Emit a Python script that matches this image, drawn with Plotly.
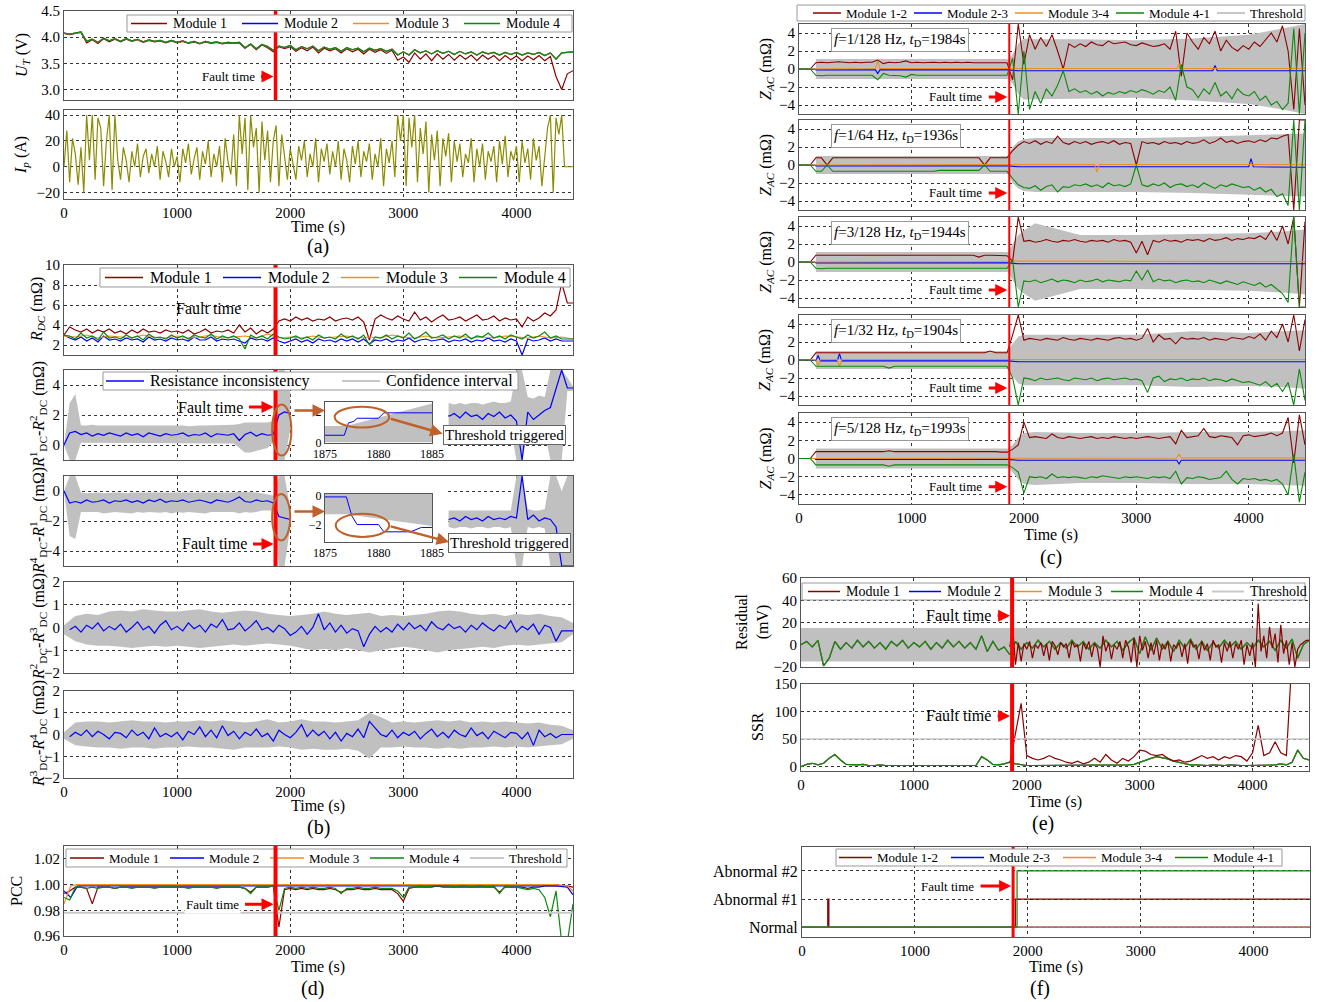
import plotly.graph_objects as go

W, H = 1325, 1002
FONT = "Liberation Serif"

# ------------------------------------------------------------------ data
T25 = list(range(0, 4501, 25))
T50 = list(range(0, 4501, 50))
T100 = list(range(0, 4501, 100))
X_TICKS = [0, 1000, 2000, 3000, 4000]
FAULT_T = 1870

# (a) terminal voltage U_T (V), current I_p (A)
U_T_M1 = [4.07, 4.05, 4.07, 4.09, 3.89, 3.95, 3.88, 3.97, 3.91, 3.96,
          3.91, 3.96, 3.92, 3.95, 3.90, 3.94, 3.91, 3.93, 3.89, 3.93,
          3.89, 3.92, 3.88, 3.91, 3.87, 3.91, 3.88, 3.90, 3.87, 3.89,
          3.88, 3.89, 3.79, 3.86, 3.76, 3.85, 3.80, 3.72, 3.82, 3.78,
          3.82, 3.73, 3.80, 3.74, 3.81, 3.70, 3.79, 3.74, 3.78, 3.70,
          3.78, 3.72, 3.77, 3.68, 3.77, 3.71, 3.76, 3.69, 3.75, 3.56,
          3.62, 3.52, 3.70, 3.58, 3.68, 3.55, 3.68, 3.58, 3.67, 3.56,
          3.66, 3.58, 3.66, 3.55, 3.66, 3.58, 3.65, 3.55, 3.65, 3.57,
          3.64, 3.55, 3.64, 3.57, 3.65, 3.55, 3.63, 3.25, 3.00, 3.30,
          3.36]
U_T_M234 = [4.08, 4.06, 4.08, 4.10, 3.92, 3.96, 3.90, 3.98, 3.93, 3.97,
            3.92, 3.97, 3.93, 3.96, 3.91, 3.95, 3.92, 3.94, 3.90, 3.94,
            3.90, 3.93, 3.89, 3.92, 3.88, 3.92, 3.89, 3.91, 3.88, 3.90,
            3.89, 3.90, 3.80, 3.87, 3.78, 3.86, 3.82, 3.75, 3.83, 3.80,
            3.84, 3.76, 3.82, 3.78, 3.83, 3.74, 3.81, 3.77, 3.80, 3.73,
            3.80, 3.76, 3.79, 3.72, 3.79, 3.75, 3.78, 3.73, 3.77, 3.66,
            3.72, 3.66, 3.76, 3.70, 3.74, 3.68, 3.74, 3.69, 3.73, 3.67,
            3.73, 3.68, 3.72, 3.66, 3.72, 3.68, 3.71, 3.66, 3.71, 3.67,
            3.71, 3.66, 3.70, 3.67, 3.71, 3.65, 3.70, 3.58, 3.70, 3.71,
            3.72]
I_P = [0, 28, -12, 22, 10, -14, 15, -20, 40, 5, 40, -10, 38, 30, -15, 20, 40, -18, 40, 5,
       -10, 15, 5, -12, 12, 0, 18, -8, 8, 14, -5, 10, 0, 16, -10, 12, 4, -8, 14, 0,
       8, -12, 14, 3, 18, -6, 6, 15, -10, 12, 2, 20, -8, 10, 0, 16, -12, 22, 4, -6,
       25, -15, 40, 10, 38, -18, 40, 15, 30, -20, 35, 5, 28, -12, 20, 32, -15, 25, 8, -10,
       14, 3, -10, 16, 5, 20, -8, 10, 0, 22, -12, 14, 4, 18, -6, 12, 0, 20, -10, 14,
       5, -12, 16, 2, 20, -8, 12, 4, 18, -10, 10, 0, 22, -15, 14, 3, 20, -8, 40, 20,
       40, -15, 38, 15, 40, -12, 30, 10, 35, -20, 25, 5, 28, -15, 22, 8, 26, -12, 20, 4,
       18, -8, 10, 3, 22, -12, 14, 0, 18, -10, 12, 4, 16, -12, 20, 2, 24, -8, 12, 5,
       16, -12, 20, 3, 14, -10, 22, 5, 16, -15, 10, 30, 40, -20, 38, 25, 40, 0, 0, 0,
       0]

# (b) DC resistance (mOhm)
R_M1 = [3.0, 3.8, 3.5, 3.3, 3.6, 3.2, 3.5, 3.3, 3.6, 3.2,
        3.4, 3.1, 3.5, 3.2, 3.6, 3.3, 3.4, 3.2, 3.5, 3.3,
        3.4, 3.2, 3.5, 3.1, 3.3, 3.6, 3.2, 3.4, 3.3, 3.5,
        3.2, 4.0, 3.3, 3.7, 3.1, 3.5, 3.2, 3.6, 4.4, 4.6,
        4.4, 4.8, 4.5, 4.7, 4.4, 4.6, 4.5, 4.8, 4.4, 4.6,
        4.7, 4.5, 4.8, 4.3, 2.5, 4.6, 5.0, 4.7, 4.5, 4.9,
        4.6, 4.4, 5.3, 4.5, 4.8, 4.3, 4.7, 5.0, 4.5, 4.6,
        4.8, 4.4, 4.7, 5.0, 4.5, 4.6, 4.9, 4.4, 4.7, 4.5,
        4.6, 3.8, 4.8, 4.4, 4.7, 5.2, 4.9, 5.5, 8.2, 6.2,
        6.2]
R_M2 = [3.0, 2.7, 2.5, 2.8, 2.4, 2.7, 2.3, 2.9, 2.5, 2.6,
        2.4, 2.7, 2.5, 2.6, 2.3, 2.8, 2.5, 2.6, 2.4, 2.7,
        2.5, 2.6, 2.4, 2.8, 2.5, 2.5, 2.8, 2.4, 2.6, 2.5,
        2.6, 2.4, 2.2, 2.7, 2.5, 2.6, 2.4, 2.7, 2.4, 2.2,
        2.4, 2.6, 2.3, 2.5, 2.2, 2.6, 2.4, 2.5, 2.3, 2.6,
        2.4, 2.6, 2.3, 2.6, 2.1, 2.5, 2.4, 2.6, 2.3, 2.5,
        2.4, 2.7, 2.3, 2.5, 2.6, 2.4, 2.5, 2.6, 2.3, 2.5,
        2.4, 2.6, 2.3, 2.5, 2.4, 2.7, 2.4, 2.5, 2.3, 2.6,
        2.4, 1.0, 2.6, 2.4, 2.5, 2.7, 2.4, 2.6, 2.4, 2.4,
        2.4]
R_M3 = [2.9, 2.8, 3.0, 2.7, 2.9, 2.8, 2.7, 3.0, 2.8, 2.7,
        2.9, 2.7, 2.8, 3.0, 2.7, 2.8, 2.9, 2.7, 3.1, 2.7,
        2.8, 2.7, 2.9, 2.7, 2.8, 2.9, 2.7, 2.8, 2.7, 3.0,
        2.8, 2.7, 2.9, 2.7, 2.8, 2.9, 2.7, 2.8, 2.7, 2.9,
        2.8, 2.7, 2.9, 2.7, 2.8, 2.6]
R_M4 = [3.0, 2.9, 2.6, 3.2, 2.7, 2.9, 2.5, 3.3, 2.7, 2.8,
        2.6, 3.0, 2.7, 2.9, 2.5, 3.1, 2.7, 2.8, 2.6, 3.0,
        2.7, 2.9, 2.6, 3.0, 2.8, 2.7, 3.1, 2.6, 2.9, 2.7,
        2.9, 2.6, 1.6, 3.0, 2.7, 2.9, 2.6, 3.1, 2.8, 2.6,
        2.7, 2.9, 2.6, 2.8, 2.5, 3.0, 2.7, 2.8, 2.6, 3.1,
        2.7, 2.9, 2.6, 3.0, 2.0, 2.8, 2.7, 3.0, 2.6, 2.9,
        2.7, 3.2, 2.6, 2.9, 3.3, 2.7, 2.8, 3.0, 2.6, 2.9,
        2.7, 3.1, 2.6, 2.9, 2.8, 3.2, 2.7, 2.9, 2.6, 3.0,
        2.8, 2.6, 3.0, 2.7, 2.9, 3.3, 2.7, 2.9, 2.6, 2.6,
        2.6]
GAP27 = [None] * 27   # region hidden under the inset (no data drawn)
D12 = [0.0, 0.8, 0.9, 0.7, 0.8, 0.6, 0.75, 0.65, 0.8, 0.7,
       0.6, 0.8, 0.65, 0.75, 0.55, 0.8, 0.7, 0.6, 0.75, 0.65,
       0.7, 0.8, 0.6, 0.7, 0.65, 0.8, 0.55, 0.75, 0.7, 0.65,
       0.75, 0.3, 0.7, 0.85, 0.6, 0.75, 0.65, 0.7, 2.0, 2.2,
       2.1] + GAP27 + [1.9, 2.1, 1.8, 2.2, 1.9, 2.0, 1.7, 2.1, 1.9, 2.2, 1.8, 2.0,
                       1.6, -1.0, 2.2, 1.7, 2.0, 2.3, 2.5, 3.8, 5.0, 3.8, 3.8]
CI12_HI = [0.0, 2.8, 3.4, 1.3, 1.3, 1.35, 1.3, 1.3, 1.35, 1.3,
           1.3, 1.3, 1.3, 1.35, 1.3, 1.3, 1.3, 1.3, 1.3, 1.3,
           1.3, 1.3, 1.25, 1.3, 1.3, 1.3, 1.3, 1.35, 1.3, 1.3,
           1.35, 1.4, 1.5, 1.5, 1.5, 1.5, 1.5, 1.6, 5.0, 5.0,
           3.5] + GAP27 + [2.8, 2.7, 2.8, 2.7, 2.8, 2.8, 2.7, 2.8, 2.9, 2.8, 2.8, 2.9,
                           5.0, 5.0, 3.2, 3.1, 3.3, 3.2, 5.0, 5.0, 5.0, 4.5, 3.9]
CI12_LO = [0.0, -1.0, -1.0, 0.15, 0.1, 0.1, 0.15, 0.1, 0.1, 0.1,
           0.15, 0.1, 0.1, 0.1, 0.15, 0.1, 0.1, 0.1, 0.1, 0.15,
           0.1, 0.1, 0.1, 0.15, 0.1, 0.1, 0.1, 0.1, 0.1, 0.1,
           0.1, -0.2, -0.5, -0.5, -0.4, -0.3, -0.2, 0.2, -1.0, -1.0,
           1.0] + GAP27 + [1.2, 1.3, 1.2, 1.3, 1.2, 1.3, 1.3, 1.2, 1.2, 1.3, 1.2, 1.1,
                           -1.0, -1.0, 0.8, 0.9, 0.8, 0.8, -1.0, -1.0, -1.0, 3.6, 3.6]
D41 = [0.0, -0.8, -0.7, -0.8, -0.6, -0.75, -0.7, -0.6, -0.8, -0.65,
       -0.7, -0.6, -0.75, -0.65, -0.8, -0.6, -0.7, -0.55, -0.75, -0.65,
       -0.7, -0.6, -0.75, -0.65, -0.6, -0.7, -0.8, -0.6, -0.7, -0.75,
       -0.6, -0.4, -0.7, -0.75, -0.6, -0.7, -0.65, -0.8, -1.7, -1.8,
       -1.9] + GAP27 + [-1.9, -1.8, -2.0, -1.7, -1.9, -1.8, -2.0, -1.7, -1.9, -1.8, -1.9, -1.7,
                        -1.8, 1.0, -1.9, -1.6, -2.0, -1.8, -1.9, -2.4, -5.0, -5.0, -5.0]
CI41_HI = [0.0, 1.0, 1.0, -0.1, -0.15, -0.1, -0.1, -0.15, -0.1, -0.1,
           -0.1, -0.15, -0.1, -0.1, -0.1, -0.15, -0.1, -0.1, -0.1, -0.1,
           -0.1, -0.1, -0.15, -0.1, -0.1, -0.1, -0.1, -0.15, -0.1, -0.1,
           -0.1, -0.05, -0.05, -0.1, -0.1, -0.15, -0.2, -0.3, 1.0, 1.0,
           -1.2] + GAP27 + [-1.3, -1.3, -1.3, -1.25, -1.3, -1.3, -1.3, -1.3, -1.25, -1.3, -1.3, -1.3,
                            1.0, 1.0, -1.2, -1.3, -1.3, -1.2, 1.0, 1.0, 0.0, 1.0, 1.0]
CI41_LO = [0.0, -3.0, -3.2, -1.4, -1.45, -1.4, -1.4, -1.5, -1.45, -1.4,
           -1.4, -1.45, -1.5, -1.4, -1.45, -1.4, -1.4, -1.45, -1.4, -1.5,
           -1.4, -1.45, -1.4, -1.4, -1.45, -1.5, -1.4, -1.4, -1.45, -1.4,
           -1.4, -1.5, -1.4, -1.45, -1.4, -1.3, -1.3, -1.3, -5.0, -5.0,
           -2.4] + GAP27 + [-2.4, -2.5, -2.4, -2.4, -2.5, -2.4, -2.4, -2.5, -2.4, -2.4, -2.5, -2.4,
                            -5.0, -5.0, -2.4, -2.5, -2.4, -2.5, -5.0, -5.0, -5.0, -5.0, -5.0]
D23 = [None, -0.1, 0.05, -0.2, 0.1, -0.05, 0.2, -0.15, 0.05, -0.1,
       0.15, -0.2, 0.0, 0.25, -0.1, 0.05, -0.25, 0.1, 0.3, -0.1,
       0.05, -0.15, 0.2, -0.05, 0.1, -0.2, 0.15, 0.0, 0.35, -0.1,
       -0.05, 0.2, -0.15, 0.05, 0.3, -0.1, 0.0, -0.2, 0.1, -0.05,
       -0.35, -0.2, 0.05, -0.3, 0.0, 0.6, -0.1, 0.2, -0.2, 0.1,
       -0.25, -0.05, -0.15, -0.85, -0.3, 0.05, -0.2, 0.0, -0.2, 0.15,
       -0.1, 0.2, -0.05, 0.1, -0.15, 0.25, 0.0, -0.1, 0.15, -0.05,
       0.05, -0.2, 0.1, -0.1, 0.2, 0.0, -0.15, 0.1, -0.05, 0.3,
       -0.2, 0.05, -0.1, 0.15, -0.3, 0.1, 0.0, -0.6, -0.15, -0.15,
       -0.15]
CI23_HI = [0.1, 0.5, 0.6, 0.55, 0.7, 0.75, 0.7, 0.8, 0.75, 0.7,
           0.7, 0.75, 0.8, 0.7, 0.65, 0.7, 0.75, 0.7, 0.6, 0.55,
           0.5, 0.55, 0.6, 0.7, 0.6, 0.55, 0.6, 0.65, 0.5, 0.55,
           0.5, 0.55, 0.6, 0.7, 0.75, 0.7, 0.6, 0.55, 0.6, 0.5,
           0.6, 0.55, 0.6, 0.5, 0.45, 0.2]
CI23_LO = [-0.3, -0.6, -0.75, -0.8, -0.8, -0.85, -0.9, -0.85, -0.8, -0.85,
           -0.8, -0.85, -0.9, -0.85, -0.8, -0.75, -0.8, -0.75, -0.7, -0.75,
           -0.8, -0.9, -1.0, -0.95, -1.0, -0.9, -1.0, -1.1, -1.0, -0.9,
           -0.85, -0.9, -1.0, -1.1, -1.0, -0.95, -0.9, -0.85, -0.9, -0.8,
           -0.75, -0.8, -0.75, -0.7, -0.65, -0.3]
D34 = [None, -0.1, 0.1, -0.05, 0.2, -0.1, 0.15, 0.0, -0.2, 0.1,
       0.05, -0.15, 0.2, -0.05, 0.1, -0.2, 0.3, -0.1, 0.05, -0.1,
       0.1, -0.25, 0.15, 0.0, 0.35, -0.1, 0.2, -0.15, 0.4, -0.05,
       0.15, -0.2, 0.1, -0.05, 0.25, -0.1, 0.05, -0.3, 0.2, 0.0,
       -0.15, 0.1, 0.45, -0.1, 0.2, -0.05, 0.15, -0.2, 0.1, -0.3,
       0.05, -0.1, 0.25, -0.15, 0.6, 0.3, 0.0, -0.1, 0.2, -0.15,
       0.1, -0.05, 0.15, -0.2, 0.05, 0.25, -0.1, 0.1, -0.15, 0.2,
       0.0, -0.1, 0.3, -0.05, 0.1, -0.2, 0.15, 0.0, -0.15, 0.1,
       0.05, -0.2, 0.1, -0.5, 0.2, -0.1, 0.05, -0.15, 0.0, 0.0,
       0.0]
CI34_HI = [0.1, 0.55, 0.6, 0.6, 0.55, 0.6, 0.65, 0.6, 0.6, 0.55,
           0.6, 0.6, 0.65, 0.6, 0.65, 0.6, 0.55, 0.6, 0.7, 0.55,
           0.6, 0.7, 0.6, 0.6, 0.55, 0.6, 0.65, 1.0, 0.8, 0.55,
           0.6, 0.55, 0.6, 0.65, 0.6, 0.65, 0.55, 0.6, 0.55, 0.6,
           0.55, 0.5, 0.55, 0.45, 0.4, 0.2]
CI34_LO = [-0.2, -0.5, -0.55, -0.6, -0.6, -0.65, -0.6, -0.6, -0.65, -0.6,
           -0.6, -0.55, -0.6, -0.6, -0.65, -0.7, -0.6, -0.6, -0.6, -0.55,
           -0.6, -0.7, -0.65, -0.7, -0.7, -0.65, -0.75, -1.1, -0.6, -0.6,
           -0.55, -0.6, -0.6, -0.65, -0.6, -0.65, -0.6, -0.6, -0.55, -0.6,
           -0.55, -0.6, -0.55, -0.5, -0.45, -0.2]
# insets (zoom on 1875-1885 s)
INSET_T_B2 = [1875, 1876.8, 1877.2, 1877.7, 1878.0, 1880.0, 1880.5, 1885]
INSET_V_B2 = [0.5, 0.5, 1.3, 1.4, 1.6, 1.6, 1.95, 1.95]
INSET_BAND_T = [1875, 1877, 1885]
INSET_B2_HI = [1.1, 1.1, 2.55]
INSET_B2_LO = [0.05, 0.05, 0.05]
INSET_T_B3 = [1875, 1877.0, 1877.5, 1878.0, 1880.0, 1880.5, 1883.0, 1884.0, 1885]
INSET_V_B3 = [-0.1, -0.1, -1.4, -2.0, -2.0, -2.5, -2.5, -2.2, -2.2]
INSET_B3_HI = [0.1, 0.1, 0.1]
INSET_B3_LO = [-1.3, -1.3, -2.1]
INSET_COVER_T = [2040, 3380]   # area of the main plot covered by the inset

# (d) PCC
PCC_M1 = [0.993, 0.995, 0.998, 0.998, 0.997, 0.985, 0.998, 0.998, 0.998, 0.997,
          0.998, 0.998, 0.998, 0.998, 0.998, 0.998, 0.998, 0.998, 0.998, 0.998,
          0.998, 0.998, 0.998, 0.998, 0.998, 0.998, 0.998, 0.998, 0.998, 0.998,
          0.998, 0.998, 0.997, 0.994, 0.998, 0.998, 0.998, 0.999, 0.967, 0.996,
          0.997, 0.996, 0.997, 0.996, 0.997, 0.996, 0.996, 0.997, 0.996, 0.994,
          0.996, 0.996, 0.997, 0.996, 0.996, 0.997, 0.996, 0.996, 0.996, 0.993,
          0.987, 0.997, 0.998, 0.998, 0.998, 0.998, 0.999, 0.998, 0.998, 0.998,
          0.998, 0.998, 0.998, 0.998, 0.998, 0.998, 0.998, 0.994, 0.998, 0.998,
          0.998, 0.998, 0.997, 0.998, 0.998, 0.999, 0.999, 0.999, 0.999, 0.999,
          0.998]
PCC_M4 = [0.990, 0.988, 0.998, 0.998, 0.997, 0.998, 0.997, 0.998, 0.998, 0.997,
          0.998, 0.998, 0.997, 0.998, 0.998, 0.998, 0.997, 0.998, 0.998, 0.998,
          0.998, 0.998, 0.997, 0.998, 0.998, 0.998, 0.998, 0.997, 0.998, 0.998,
          0.998, 0.998, 0.997, 0.993, 0.998, 0.998, 0.998, 0.999, 0.980, 0.997,
          0.998, 0.997, 0.998, 0.997, 0.998, 0.997, 0.997, 0.998, 0.997, 0.993,
          0.997, 0.997, 0.998, 0.997, 0.997, 0.998, 0.997, 0.997, 0.997, 0.995,
          0.990, 0.998, 0.998, 0.999, 0.998, 0.999, 0.999, 0.999, 0.999, 0.998,
          0.999, 0.999, 0.998, 0.999, 0.999, 0.998, 0.999, 0.993, 0.999, 0.998,
          0.998, 0.997, 0.996, 0.997, 0.996, 0.990, 0.975, 0.995, 0.955, 0.955,
          0.985]
PCC_T_SPARSE = [0, 60, 120, 4350, 4450, 4500]
PCC_M2 = [0.995, 0.990, 0.999, 0.999, 0.998, 0.992]
PCC_M3 = [0.985, 0.999, 1.000, 1.000, 0.999, 0.995]
PCC_THR_T = [0, 4500]
PCC_THR = [0.978, 0.978]

# (c) AC impedance Z_AC (mOhm) for five frequencies
C_INFO = ['<i>f</i>=1/128 Hz, <i>t</i><sub>D</sub>=1984s',
          '<i>f</i>=1/64 Hz, <i>t</i><sub>D</sub>=1936s',
          '<i>f</i>=3/128 Hz, <i>t</i><sub>D</sub>=1944s',
          '<i>f</i>=1/32 Hz, <i>t</i><sub>D</sub>=1904s',
          '<i>f</i>=5/128 Hz, <i>t</i><sub>D</sub>=1993s']
Z12_P1 = [0, 0, 0, 0.7, 0.75, 0.7, 0.75, 0.8, 0.75, 0.7,
          0.75, 0.7, 0.75, 0.75, 1.0, 0.6, 0.75, 0.7, 0.75, 0.9,
          0.7, 0.75, 0.7, 0.75, 0.75, 0.7, 0.75, 0.7, 0.75, 0.7,
          0.75, 0.7, 0.7, 0.75, 0.7, 0.7, 0.75, 0.7, -1.2, 5.0,
          0.5, 3.8, 2.2, 3.5, 2.5, 3.8, 2.0, 0.0, 2.8, 2.4,
          2.8, 2.5, 3.0, 2.7, 2.6, 3.1, 2.8, 2.9, 3.0, 2.7,
          2.6, 2.9, 2.7, 2.5, 2.6, 2.8, 2.2, 4.2, -0.8, 4.0,
          3.0, 2.2, 3.5, 2.8, 4.2, 2.0, 3.2, 2.4, 2.0, 2.6,
          2.2, 3.0, 2.5, 3.2, 4.0, 3.0, 4.8, 2.0, -4.5, 4.5,
          -4.0]
Z41_P1 = [0, 0, 0, -0.7, -0.75, -0.7, -0.7, -0.75, -0.7, -0.7,
          -0.7, -0.75, -0.7, -0.7, -1.2, -0.5, -0.7, -0.7, -0.75, -0.9,
          -0.6, -0.7, -0.7, -0.75, -0.7, -0.7, -0.75, -0.7, -0.7, -0.7,
          -0.7, -0.75, -0.7, -0.7, -0.7, -0.75, -0.7, -0.7, 1.2, -5.0,
          2.0, -4.5, -2.5, -3.8, -2.2, -3.0, -1.8, -0.2, -2.5, -2.2,
          -2.6, -2.4, -2.8, -2.5, -3.0, -2.6, -2.8, -2.5, -2.7, -2.4,
          -2.6, -2.3, -2.5, -2.8, -2.4, -2.6, -2.0, -3.5, 0.5, -2.0,
          -2.3, -3.2, -2.2, -2.8, -1.5, -3.0, -2.5, -3.3, -2.2, -2.8,
          -3.0, -2.5, -3.5, -3.0, -4.0, -3.6, -4.5, -3.8, 4.5, -5.0,
          4.0]
Z12_P2 = [0, 0, 0, 0.8, 0.8, 0.0, 0.8, 0.8, 0.8, 0.8,
          0.8, 0.8, 0.8, 0.8, 0.8, 0.8, 0.8, 0.8, 0.8, 0.8,
          0.8, 0.8, 0.8, 0.8, 0.8, 0.8, 0.8, 0.8, 0.8, 0.8,
          0.8, 0.8, 0.8, 0.0, 0.8, 0.8, 0.8, 0.8, 1.6, 2.2,
          2.6, 2.4, 2.7, 2.3, 2.6, 2.4, 3.2, 2.5, 2.3, 2.6,
          2.4, 2.6, 2.3, 2.5, 2.6, 2.4, 2.7, 2.3, 2.5, 2.4,
          0.0, 2.6, 2.4, 2.5, 2.3, 2.6, 2.4, 2.5, 2.3, 2.6,
          2.4, 2.5, 2.8, 2.4, 2.6, 3.0, 2.5, 2.7, 2.4, 2.6,
          2.7, 2.5, 2.8, 2.6, 3.0, 2.9, 3.2, 3.4, -5.0, 5.0,
          5.0]
Z41_P2 = [0, 0, 0, -0.7, -0.7, 0.0, -0.7, -0.7, -0.7, -0.7,
          -0.7, -0.7, -0.7, -0.7, -0.7, -0.7, -0.7, -0.7, -0.7, -0.7,
          -0.7, -0.7, -0.7, -0.7, -0.7, -0.6, -0.6, -0.6, -0.6, -0.6,
          -0.6, -0.6, -0.6, 0.0, -0.7, -0.7, -0.7, -0.7, -1.5, -2.2,
          -2.5, -2.6, -2.3, -2.8, -2.4, -2.2, -3.0, -2.4, -2.5, -2.2,
          -2.3, -2.1, -2.4, -2.2, -2.5, -2.0, -2.3, -2.2, -2.4, -2.1,
          0.0, -2.2, -2.4, -2.1, -2.3, -2.0, -2.5, -2.2, -2.1, -2.4,
          -2.2, -2.5, -2.0, -2.3, -2.6, -2.2, -2.4, -2.1, -2.3, -2.5,
          -2.4, -2.8, -2.5, -3.0, -2.7, -3.5, -3.2, -4.5, 5.0, -5.0,
          5.0]
Z12_P3 = [0, 0, 0, 0.75, 0.75, 0.75, 0.75, 0.75, 0.75, 0.75,
          0.75, 0.75, 0.75, 0.75, 0.75, 0.75, 0.75, 0.75, 0.75, 0.75,
          0.75, 0.75, 0.75, 0.75, 0.75, 0.75, 0.75, 0.75, 0.75, 0.75,
          0.75, 0.75, 0.55, 0.75, 0.75, 0.75, 0.75, 0.7, 0.1, 5.0,
          2.3, 2.4, 2.2, 2.3, 2.5, 2.3, 2.2, 2.4, 2.3, 2.5,
          2.3, 2.2, 2.4, 2.3, 2.4, 2.2, 2.5, 2.3, 2.4, 2.2,
          1.0, 2.3, 0.8, 2.4, 2.2, 2.5, 2.3, 2.4, 2.2, 2.5,
          2.4, 2.5, 2.3, 2.6, 2.4, 2.5, 2.7, 2.4, 2.6, 2.5,
          2.7, 2.6, 2.9, 2.5, 3.5, 2.4, 4.0, 2.0, 5.0, -5.0,
          4.5]
Z41_P3 = [0, 0, 0, -0.7, -0.75, -0.7, -0.7, -0.7, -0.7, -0.7,
          -0.7, -0.7, -0.7, -0.7, -0.7, -0.7, -0.7, -0.7, -0.7, -0.7,
          -0.7, -0.7, -0.7, -0.7, -0.7, -0.7, -0.7, -0.7, -0.7, -0.7,
          -0.7, -0.7, -0.7, -0.7, -0.7, -0.7, -0.7, -0.7, 0.2, -5.0,
          -2.1, -2.2, -2.0, -2.3, -2.1, -1.9, -2.2, -2.0, -2.1, -2.3,
          -2.0, -2.2, -2.1, -1.9, -2.2, -2.0, -2.1, -2.2, -2.0, -2.1,
          -1.0, -2.0, -0.9, -2.2, -1.9, -2.1, -2.0, -2.3, -2.1, -2.0,
          -2.2, -2.1, -2.3, -2.0, -2.2, -2.4, -2.1, -2.3, -2.5, -2.2,
          -2.4, -2.6, -2.3, -2.8, -2.5, -3.0, -3.5, -4.5, 5.0, -5.0,
          -5.0]
Z12_P4 = [0, 0, 0, 0.8, 0.8, 0.8, 0.8, 0.8, 0.8, 0.8,
          0.8, 0.8, 0.8, 0.8, 0.8, 0.8, 0.8, 0.8, 0.8, 0.8,
          0.8, 0.8, 0.8, 0.8, 0.8, 0.8, 0.8, 0.8, 0.8, 0.8,
          0.8, 0.8, 0.8, 0.8, 1.0, 0.8, 0.8, 0.8, 2.8, 5.0,
          2.2, 2.4, 2.3, 2.2, 2.4, 2.3, 2.2, 2.5, 2.3, 2.2,
          2.4, 2.3, 2.2, 2.4, 2.3, 2.2, 2.4, 2.5, 2.3, 2.4,
          2.2, 2.4, 3.5, 2.0, 2.8, 2.3, 2.4, 1.8, 2.5, 2.3,
          2.4, 2.3, 2.5, 2.2, 2.4, 2.3, 2.2, 2.5, 2.4, 2.3,
          2.6, 2.4, 2.9, 2.2, 3.2, 2.5, 4.0, 2.0, 5.0, 1.0,
          4.5]
Z41_P4 = [0, 0, 0, -0.7, -0.7, -0.7, -0.7, -0.7, -0.7, -0.7,
          -0.7, -0.7, -0.7, -0.7, -0.7, -0.7, -0.9, -0.7, -0.7, -0.7,
          -0.7, -0.7, -0.7, -0.7, -0.7, -0.7, -0.7, -0.7, -0.7, -0.7,
          -0.7, -0.7, -0.7, -0.7, -0.7, -0.7, -0.7, -0.7, -2.0, -5.0,
          -2.0, -2.1, -2.3, -2.0, -2.2, -2.1, -2.0, -2.2, -2.3, -2.0,
          -2.1, -2.2, -2.0, -2.3, -2.1, -2.0, -2.2, -2.1, -2.0, -2.2,
          -2.1, -2.3, -3.6, -2.0, -1.8, -2.4, -2.1, -2.2, -2.0, -2.3,
          -2.1, -2.2, -2.0, -2.3, -2.1, -2.2, -2.4, -2.1, -2.3, -2.5,
          -2.4, -2.6, -2.8, -2.4, -3.0, -2.6, -3.5, -2.5, -5.0, -1.0,
          -4.5]
Z12_P5 = [0, 0, 0, 0.75, 0.75, 0.75, 0.75, 0.75, 0.75, 0.75,
          0.75, 0.75, 0.75, 0.75, 0.75, 0.75, 0.85, 0.75, 0.75, 0.75,
          0.75, 0.75, 0.8, 0.75, 0.75, 0.75, 0.75, 0.75, 0.75, 0.75,
          0.75, 0.75, 0.75, 0.75, 0.75, 0.75, 0.7, 0.7, 1.0, 1.5,
          4.0, 2.3, 2.4, 2.3, 2.2, 2.7, 2.3, 2.2, 2.4, 2.3,
          2.2, 2.3, 2.4, 2.2, 2.3, 2.2, 2.4, 2.3, 2.2, 2.3,
          2.2, 2.3, 2.4, 2.3, 2.2, 2.3, 2.4, 1.6, 3.1, 2.3,
          2.4, 2.5, 3.3, 2.4, 2.3, 2.5, 2.4, 2.3, 1.5, 2.5,
          2.6, 2.4, 2.5, 2.6, 2.8, 2.5, 2.8, 4.5, -0.5, 4.8,
          1.5]
Z41_P5 = [0, 0, 0, -0.7, -0.7, -0.7, -0.7, -0.7, -0.7, -0.7,
          -0.7, -0.7, -0.7, -0.7, -0.7, -0.7, -0.85, -0.7, -0.7, -0.7,
          -0.7, -0.7, -0.7, -0.7, -0.7, -0.7, -0.7, -0.7, -0.7, -0.7,
          -0.7, -0.7, -0.7, -0.7, -0.7, -0.7, -0.7, -0.7, -1.0, -1.5,
          -3.8, -2.0, -2.1, -2.0, -2.2, -1.7, -2.1, -2.0, -2.1, -2.0,
          -2.1, -2.2, -2.0, -2.1, -1.9, -2.0, -2.1, -2.2, -2.0, -2.1,
          -2.0, -2.1, -2.2, -2.0, -2.1, -2.0, -2.2, -1.4, -2.8, -2.1,
          -2.2, -2.0, -2.1, -2.3, -2.2, -2.1, -1.4, -2.3, -2.8, -2.2,
          -2.3, -2.2, -2.4, -2.3, -2.5, -2.3, -2.8, -4.0, 0.5, -4.8,
          -1.5]
Z23_T = [[0, 140, 150, 680, 700, 720, 1860, 1950, 3680, 3700, 3720, 4500],
         [0, 140, 150, 1860, 1950, 4000, 4020, 4040, 4500],
         [0, 140, 150, 1860, 1950, 4500],
         [0, 140, 150, 170, 190, 340, 360, 380, 1860, 1950, 4500],
         [0, 140, 150, 1860, 1950, 3360, 3380, 3400, 4500]]
Z23_V = [[0, 0, -0.1, -0.1, -0.5, -0.1, -0.1, -0.2, -0.2, 0.4, -0.2, -0.2],
         [0, 0, -0.1, -0.1, -0.2, -0.2, 0.7, -0.2, -0.25],
         [0, 0, -0.1, -0.1, -0.2, -0.2],
         [0, 0, -0.1, 0.5, -0.1, -0.1, 0.7, -0.1, -0.1, -0.2, -0.2],
         [0, 0, -0.1, -0.1, -0.2, -0.2, -0.6, -0.2, -0.2]]
Z34_T = [[0, 140, 150, 680, 700, 720, 1860, 1950, 3360, 3380, 3400, 4500],
         [0, 140, 150, 1860, 1950, 2630, 2650, 2670, 4500],
         [0, 140, 150, 1860, 1950, 4500],
         [0, 140, 150, 170, 190, 340, 360, 380, 1860, 1950, 4500],
         [0, 140, 150, 1860, 1950, 3360, 3380, 3400, 4500]]
Z34_V = [[0, 0, 0.05, 0.05, 0.9, 0.05, 0.05, 0.05, 0.05, 0.6, 0.05, 0.05],
         [0, 0, 0.05, 0.05, 0.05, 0.05, -0.8, 0.05, 0.05],
         [0, 0, 0.05, 0.05, 0.1, 0.05],
         [0, 0, 0.05, -0.6, 0.05, 0.05, -0.7, 0.05, 0.05, 0.1, 0.05],
         [0, 0, 0.05, 0.05, 0.05, 0.05, 0.5, 0.05, 0.05]]
THR_T = [150, 1860, 1900, 1950, 2000, 2100, 2500, 3000, 3500, 4000, 4300, 4500]
THR_HI = [[1.1, 1.1, 1.6, 2.8, 3.4, 3.3, 3.3, 3.2, 3.4, 3.8, 4.5, 5.0],
          [1.0, 1.0, 2.0, 2.6, 2.9, 3.0, 3.0, 3.0, 3.1, 3.3, 3.4, 3.5],
          [1.1, 1.1, 2.0, 3.0, 3.5, 4.3, 3.0, 3.0, 3.1, 3.2, 3.4, 3.6],
          [1.0, 1.0, 1.8, 2.6, 2.8, 2.8, 2.8, 2.8, 3.2, 3.0, 3.2, 3.3],
          [1.1, 1.1, 1.5, 2.3, 2.8, 2.9, 2.8, 2.8, 2.9, 2.9, 3.0, 3.1]]
THR_LO = [[-1.1, -1.1, -1.6, -2.8, -3.4, -3.3, -3.3, -3.2, -3.5, -3.9, -4.5, -5.0],
          [-1.0, -1.0, -2.0, -2.6, -2.9, -3.0, -3.0, -3.0, -3.1, -3.3, -3.4, -3.5],
          [-1.1, -1.1, -2.0, -3.0, -3.5, -4.3, -3.0, -3.0, -3.1, -3.2, -3.4, -3.6],
          [-1.0, -1.0, -1.8, -2.6, -2.8, -2.8, -2.8, -2.8, -3.0, -2.9, -3.0, -3.2],
          [-1.1, -1.1, -1.5, -2.3, -2.8, -2.9, -2.7, -2.7, -2.8, -2.8, -2.9, -3.0]]
Z12 = [Z12_P1, Z12_P2, Z12_P3, Z12_P4, Z12_P5]
Z41 = [Z41_P1, Z41_P2, Z41_P3, Z41_P4, Z41_P5]

# (e) residual (mV) and SSR
RES_M234 = [0, 3, -2, 4, -19, -12, 3, -4, 2, -3,
            4, -2, 3, -3, 2, -4, 3, -1, 4, -3,
            2, -2, 3, -4, 2, -3, 4, -2, 3, -3,
            2, -4, 8, -6, 3, -5, -2, -9, 3, -4,
            2, -3, 4, -2, 3, -4, 2, -3, 4, -2,
            3, -4, 2, -3, 4, -2, 3, -5, 2, 6,
            -8, 7, -5, 6, -4, 3, -6, 4, -3, 5,
            -4, 3, -5, 2, -3, 4, -2, 3, -4, 2,
            -3, 4, -2, 3, -5, 4, -3, 5, -12, 0,
            4]
RES_M1_T = list(range(1850, 4501, 25))
RES_M1 = [-2, 16, -18, 2, -15, 1, -4, 3, -12, 0,
          -3, 2, -10, 1, -14, 3, -1, -9, 2, -2,
          1, -12, 3, -2, 0, -15, 2, -4, 3, -11,
          1, -3, -20, 8, -6, 2, -13, 0, -4, 3,
          -12, 4, -2, -16, 6, -20, 8, -5, 3, -12,
          2, -9, 4, -14, 1, -4, 3, -15, 0, -3,
          2, -11, 1, -17, 4, -2, 0, -13, 3, -5,
          1, -14, 4, -2, 0, -16, 2, -6, 3, -12,
          1, -4, 4, -18, 0, -10, 2, -20, 37, -6,
          8, -12, 16, -3, 10, -16, 18, -8, 4, -18,
          2, -20, -4, 0, 2, 4, 4]
RES_THR_T = [0, 4500]
RES_THR_HI = [15, 15]
RES_THR_LO = [-15, -15]
SSR_M234 = [0, 4, 6, 3, 6, 15, 22, 12, 4, 3,
            3, 4, 2, 2, 3, 2, 2, 2, 2, 2,
            2, 3, 2, 2, 2, 2, 2, 3, 2, 2,
            3, 2, 18, 12, 4, 3, 5, 8, 5, 3,
            2, 2, 2, 2, 2, 2, 2, 2, 2, 2,
            2, 2, 2, 2, 2, 2, 2, 2, 3, 4,
            8, 12, 15, 18, 16, 14, 10, 8, 5, 3,
            3, 2, 2, 3, 2, 2, 3, 2, 2, 2,
            2, 3, 2, 2, 3, 5, 3, 8, 30, 15,
            12]
SSR_M1_T = list(range(1850, 4501, 50))
SSR_M1 = [6, 60, 115, 20, 15, 12, 15, 20, 15, 12,
          8, 6, 10, 5, 8, 15, 8, 22, 12, 6,
          15, 10, 18, 30, 28, 22, 20, 22, 15, 10,
          12, 8, 10, 15, 20, 15, 18, 12, 18, 15,
          20, 18, 10, 25, 75, 20, 25, 45, 25, 20,
          200, 200, 200, 200]
SSR_THR_T = [0, 4500]
SSR_THR = [50, 50]

# (f) state
F_T_M12 = [0, 228, 228, 238, 238, 1890, 1890, 4500]
F_V_M12 = [0, 0, 1, 1, 0, 0, 1, 1]
F_T_M23 = [0, 4500]
F_V_M23 = [0, 0]
F_T_M34 = [0, 4500]
F_V_M34 = [0, 0]
F_T_M41 = [0, 1905, 1905, 4500]
F_V_M41 = [0, 0, 2, 2]
STATE_LABELS = ['Normal', 'Abnormal #1', 'Abnormal #2']

for arr in [U_T_M1, U_T_M234, R_M1, R_M2, R_M4, D12, CI12_HI, CI12_LO, D41, CI41_HI, CI41_LO,
            D23, D34, PCC_M1, PCC_M4, RES_M234, SSR_M234] + Z12 + Z41:
    assert len(arr) == len(T50), len(arr)
for arr in [R_M3, CI23_HI, CI23_LO, CI34_HI, CI34_LO]:
    assert len(arr) == len(T100), len(arr)
assert len(I_P) == len(T25)
assert len(RES_M1) == len(RES_M1_T)
assert len(SSR_M1) == len(SSR_M1_T)

# ------------------------------------------------------------------ style
C1 = "#8B0000"
C2 = "#0000FF"
C3 = "#F28E1C"
C4 = "#0A8A0A"
OLIVE = "#8C8C00"
GRAY = "#C0C0C0"
THR = "#C8C8C8"
BROWN = "#C0602A"
RED = "#FF0000"

# panel pixel boxes: (x0, x1), (y0, y1)
PANELS = {
    1: ((64, 573), (11, 100)),
    2: ((64, 573), (110, 199)),
    3: ((64, 573), (265, 355)),
    4: ((64, 573), (370, 460)),
    5: ((64, 573), (476, 566)),
    6: ((64, 573), (582, 673)),
    7: ((64, 573), (691, 778)),
    8: ((64, 573), (846, 936)),
    9: ((799, 1305), (24, 114)),
    10: ((799, 1305), (120, 210)),
    11: ((799, 1305), (217, 307)),
    12: ((799, 1305), (315, 405)),
    13: ((799, 1305), (413, 504)),
    14: ((801, 1309), (578, 667)),
    15: ((801, 1309), (684, 771)),
    16: ((802, 1310), (847, 937)),
    17: ((325, 432), (402, 443)),
    18: ((325, 432), (494, 542)),
}

fig = go.Figure()


def aid(n):
    return '' if n == 1 else str(n)


def make_axes(n, yrange, ytickvals, xlabels=False, yticktext=None, yfmt=None,
              xrange=(0, 4500), xtickvals=X_TICKS, grid=True, tfs=15, ytfs=15):
    (x0, x1), (y0, y1) = PANELS[n]
    s = aid(n)
    common = dict(showgrid=grid, gridcolor='#333', griddash='3px,3px', gridwidth=1,
                  zeroline=False, showline=True, mirror=True, linecolor='#555', linewidth=1,
                  ticks='', automargin=False, fixedrange=True)
    xa = dict(domain=[x0 / W, x1 / W], anchor='y' + s, range=list(xrange), tickvals=xtickvals,
              showticklabels=xlabels, tickfont=dict(size=tfs, family=FONT, color='black'), **common)
    ya = dict(domain=[1 - y1 / H, 1 - y0 / H], anchor='x' + s, range=list(yrange), tickvals=ytickvals,
              tickfont=dict(size=ytfs, family=FONT, color='black'), **common)
    if yticktext:
        ya['ticktext'] = yticktext
    if yfmt:
        ya['tickformat'] = yfmt
    fig.update_layout({'xaxis' + s: xa, 'yaxis' + s: ya})


def line(n, x, y, color, width=1.2, name=None):
    s = aid(n)
    fig.add_trace(go.Scatter(x=x, y=y, mode='lines', line=dict(color=color, width=width),
                             xaxis='x' + s, yaxis='y' + s, hoverinfo='skip',
                             name=name or '', showlegend=False))


def band(n, xs, lo, hi, color=GRAY):
    s = aid(n)
    segs, seg = [], []
    for x, l, h in zip(xs, lo, hi):
        if l is None or h is None:
            if seg:
                segs.append(seg)
            seg = []
        else:
            seg.append((x, l, h))
    if seg:
        segs.append(seg)
    for sg in segs:
        xx = [p[0] for p in sg] + [p[0] for p in sg[::-1]]
        yy = [p[2] for p in sg] + [p[1] for p in sg[::-1]]
        fig.add_trace(go.Scatter(x=xx, y=yy, fill='toself', fillcolor=color, mode='lines',
                                 line=dict(width=0, color=color), hoverinfo='skip',
                                 showlegend=False, xaxis='x' + s, yaxis='y' + s))


def fault_line(n, width, fx=FAULT_T):
    s = aid(n)
    fig.add_shape(type='line', xref='x' + s, yref=('y' + s + ' domain'), x0=fx, x1=fx, y0=0, y1=1,
                  line=dict(color=RED, width=width), layer='above')


def fault_note(n, y, arrow_len, size, bg='rgba(0,0,0,0)', fx=FAULT_T):
    s = aid(n)
    fig.add_annotation(x=fx, y=y, xref='x' + s, yref='y' + s, ax=-arrow_len, ay=0,
                       axref='pixel', ayref='pixel', text='', showarrow=True, arrowhead=2,
                       arrowsize=0.8, arrowwidth=3, arrowcolor=RED, standoff=2)
    fig.add_annotation(x=fx, y=y, xref='x' + s, yref='y' + s, xshift=-(arrow_len + 3),
                       xanchor='right', yanchor='middle', text='Fault time', showarrow=False,
                       font=dict(size=size, family=FONT, color='black'), bgcolor=bg)


def paper_text(xpx, ypx, text, size, angle=0, **kw):
    fig.add_annotation(x=xpx / W, y=1 - ypx / H, xref='paper', yref='paper', text=text,
                       showarrow=False, textangle=angle, xanchor='center', yanchor='middle',
                       font=dict(size=size, family=FONT, color='black'), **kw)


def draw_legend(box, items, size, sample, text_off, first, step):
    (x0, x1), (y0, y1) = box
    yc = 1 - ((y0 + y1) / 2) / H
    fig.add_shape(type='rect', xref='paper', yref='paper', x0=x0 / W, x1=x1 / W,
                  y0=1 - y1 / H, y1=1 - y0 / H, fillcolor='white',
                  line=dict(color='#999', width=1), layer='above')
    for i, (label, color, w) in enumerate(items):
        xs = x0 + first + i * step
        fig.add_shape(type='line', xref='paper', yref='paper', x0=xs / W, x1=(xs + sample) / W,
                      y0=yc, y1=yc, line=dict(color=color, width=w), layer='above')
        fig.add_annotation(x=(xs + text_off) / W, y=yc, xref='paper', yref='paper', text=label,
                           showarrow=False, xanchor='left', yanchor='middle',
                           font=dict(size=size, family=FONT, color='black'))


MOD4 = [('Module 1', C1, 1.5), ('Module 2', C2, 1.5), ('Module 3', C3, 1.5), ('Module 4', C4, 1.5)]
MOD4T = MOD4 + [('Threshold', THR, 2)]
PAIR4 = [('Module 1-2', C1, 1.5), ('Module 2-3', C2, 1.5), ('Module 3-4', C3, 1.5), ('Module 4-1', C4, 1.5)]

# ------------------------------------------------------------------ (a)
make_axes(1, (2.8, 4.5), [3.0, 3.5, 4.0, 4.5], yfmt='.1f')
make_axes(2, (-25, 44), [-20, 0, 20, 40], xlabels=True)
line(1, T50, U_T_M1, C1, name='Module 1')
line(1, T50, U_T_M234, C2, name='Module 2')
line(1, T50, U_T_M234, C3, name='Module 3')
line(1, T50, U_T_M234, C4, name='Module 4')
line(2, T25, I_P, OLIVE, width=1.2)
fault_line(1, 3.5)
fault_note(1, 3.25, 16, 13)
draw_legend(((127, 572), (15, 32)), MOD4, 14, 36, 40, 4, 111)

# ------------------------------------------------------------------ (b)
make_axes(3, (1, 10), [2, 4, 6, 8, 10])
make_axes(4, (-1, 5), [0, 2, 4])
make_axes(5, (-5, 1), [-4, -2, 0])
make_axes(6, (-2, 2), [-2, -1, 0, 1, 2])
make_axes(7, (-2, 2), [-2, -1, 0, 1, 2], xlabels=True)
make_axes(17, (0, 2.65), [0, 2], xlabels=True, xrange=(1875, 1885),
          xtickvals=[1875, 1880, 1885], grid=False, tfs=12, ytfs=12)
make_axes(18, (-3.2, 0.1), [-2, 0], xlabels=True, xrange=(1875, 1885),
          xtickvals=[1875, 1880, 1885], grid=False, tfs=12, ytfs=12)

line(3, T50, R_M1, C1, name='Module 1')
line(3, T50, R_M2, C2, name='Module 2')
line(3, T100, R_M3, C3, name='Module 3')
line(3, T50, R_M4, C4, name='Module 4')
fault_line(3, 4)
paper_text(208, 308, 'Fault time', 16)
draw_legend(((100, 570), (268, 287)), MOD4, 16, 38, 43, 5, 118)

# white cover for the area behind the insets (hides the grid there)
band(4, INSET_COVER_T, [-1, -1], [5, 5], color='white')
band(5, INSET_COVER_T, [-5, -5], [1, 1], color='white')

band(4, T50, CI12_LO, CI12_HI)
line(4, T50, D12, C2, name='Resistance inconsistency')
fault_line(4, 4)
fault_note(4, 2.53, 28, 16)
draw_legend(((103, 518), (372, 390)),
            [('Resistance inconsistency', C2, 1.5), ('Confidence interval', THR, 2)],
            16, 38, 42, 3, 236)

band(5, T50, CI41_LO, CI41_HI)
line(5, T50, D41, C2)
fault_line(5, 4)
fault_note(5, -3.53, 24, 16)

band(6, T100, CI23_LO, CI23_HI)
line(6, T50, D23, C2)
band(7, T100, CI34_LO, CI34_HI)
line(7, T50, D34, C2)

band(17, INSET_BAND_T, INSET_B2_LO, INSET_B2_HI)
line(17, INSET_T_B2, INSET_V_B2, C2, width=1)
band(18, INSET_BAND_T, INSET_B3_LO, INSET_B3_HI)
line(18, INSET_T_B3, INSET_V_B3, C2, width=1)

ell = dict(type='circle', line=dict(color=BROWN, width=2), layer='above')
fig.add_shape(xref='x4', yref='y4', x0=1840, x1=2010, y0=-0.7, y1=2.7, **ell)
fig.add_shape(xref='x17', yref='y17', x0=1875.9, x1=1881.0, y0=1.0, y1=2.35, **ell)
fig.add_shape(xref='x5', yref='y5', x0=1840, x1=2000, y0=-3.3, y1=-0.2, **ell)
fig.add_shape(xref='x18', yref='y18', x0=1876, x1=1881, y0=-2.85, y1=-1.25, **ell)
arr = dict(showarrow=True, arrowhead=2, arrowsize=1, arrowwidth=2.5, arrowcolor=BROWN, text='')
fig.add_annotation(x=1875, y=2.1, xref='x17', yref='y17', ax=-32, ay=0, **arr)
fig.add_annotation(x=1886.0, y=0.6, xref='x17', yref='y17', ax=1881.0, ay=1.6,
                   axref='x17', ayref='y17', **arr)
fig.add_annotation(x=1875, y=-1.1, xref='x18', yref='y18', ax=-32, ay=0, **arr)
fig.add_annotation(x=1886.6, y=-3.2, xref='x18', yref='y18', ax=1881.0, ay=-2.1,
                   axref='x18', ayref='y18', **arr)
paper_text(504, 435, 'Threshold triggered', 15, bgcolor='white', bordercolor='#666', borderwidth=1, borderpad=1)
paper_text(509, 543, 'Threshold triggered', 15, bgcolor='white', bordercolor='#666', borderwidth=1, borderpad=1)

# ------------------------------------------------------------------ (d)
make_axes(8, (0.96, 1.03), [0.96, 0.98, 1.00, 1.02], xlabels=True, yfmt='.2f')
line(8, T50, PCC_M1, C1, name='Module 1')
line(8, PCC_T_SPARSE, PCC_M2, C2, name='Module 2')
line(8, PCC_T_SPARSE, PCC_M3, C3, name='Module 3')
line(8, T50, PCC_M4, C4, name='Module 4')
line(8, PCC_THR_T, PCC_THR, THR, width=2, name='Threshold')
draw_legend(((66, 567), (849, 867)), MOD4T, 13, 34, 37, 4, 100)
fault_line(8, 4)
fault_note(8, 0.9846, 32, 13, bg='white')

# ------------------------------------------------------------------ (c)
for k in range(5):
    n = 9 + k
    make_axes(n, (-5, 5), [-4, -2, 0, 2, 4], xlabels=(k == 4))
    band(n, THR_T, THR_LO[k], THR_HI[k])
    line(n, T50, Z12[k], C1, width=1.1, name='Module 1-2')
    line(n, Z23_T[k], Z23_V[k], C2, width=1.1, name='Module 2-3')
    line(n, Z34_T[k], Z34_V[k], C3, width=1.1, name='Module 3-4')
    line(n, T50, Z41[k], C4, width=1.1, name='Module 4-1')
    fault_line(n, 2)
    fault_note(n, -3.1, 22, 13)
    (x0, x1), (y0, y1) = PANELS[n]
    fig.add_annotation(x=831 / W, y=1 - (y0 + 16) / H, xref='paper', yref='paper', text=C_INFO[k],
                       showarrow=False, xanchor='left', yanchor='middle',
                       font=dict(size=15, family=FONT, color='black'), bgcolor='white',
                       bordercolor='#999', borderwidth=1, borderpad=2)
draw_legend(((797, 1305), (5, 21)), PAIR4 + [('Threshold', THR, 2)], 13, 28, 31, 16, 101)

# ------------------------------------------------------------------ (e)
make_axes(14, (-20, 60), [-20, 0, 20, 40, 60])
make_axes(15, (-8, 150), [0, 50, 100, 150], xlabels=True)
band(14, RES_THR_T, RES_THR_LO, RES_THR_HI)
line(14, T50, RES_M234, C2, name='Module 2')
line(14, T50, RES_M234, C3, name='Module 3')
line(14, T50, RES_M234, C4, name='Module 4')
line(14, RES_M1_T, RES_M1, C1, name='Module 1')
line(15, T50, SSR_M234, C2)
line(15, T50, SSR_M234, C3)
line(15, T50, SSR_M234, C4)
line(15, SSR_M1_T, SSR_M1, C1)
line(15, SSR_THR_T, SSR_THR, THR, width=1.5, name='Threshold')
draw_legend(((802, 1305), (583, 600)), MOD4T, 14, 32, 36, 6, 101)
fault_line(14, 4)
fault_line(15, 4)
fault_note(14, 26, 16, 16)
fault_note(15, 92, 16, 16)

# ------------------------------------------------------------------ (f)
make_axes(16, (-0.35, 2.85), [0, 1, 2], xlabels=True, yticktext=STATE_LABELS, ytfs=16)
line(16, F_T_M12, F_V_M12, C1, name='Module 1-2')
line(16, F_T_M23, F_V_M23, C2, name='Module 2-3')
line(16, F_T_M34, F_V_M34, C3, name='Module 3-4')
line(16, F_T_M41, F_V_M41, C4, name='Module 4-1')
fault_line(16, 3)
draw_legend(((836, 1282), (849, 866)), PAIR4, 13, 33, 36, 3, 112)
fault_note(16, 1.46, 34, 13)

# ------------------------------------------------------------------ titles / labels
Y_TITLES = [
    (22, 55, '<i>U<sub>T</sub></i> (V)'),
    (22, 155, '<i>I<sub>p</sub></i> (A)'),
    (38, 310, '<i>R<sub>DC</sub></i> (mΩ)'),
    (38, 415, '<i>R</i><sup>1</sup><sub>DC</sub>-<i>R</i><sup>2</sup><sub>DC</sub> (mΩ)'),
    (38, 521, '<i>R</i><sup>4</sup><sub>DC</sub>-<i>R</i><sup>1</sup><sub>DC</sub> (mΩ)'),
    (38, 627, '<i>R</i><sup>2</sup><sub>DC</sub>-<i>R</i><sup>3</sup><sub>DC</sub> (mΩ)'),
    (38, 734, '<i>R</i><sup>3</sup><sub>DC</sub>-<i>R</i><sup>4</sup><sub>DC</sub> (mΩ)'),
    (16, 891, 'PCC'),
    (752, 622, 'Residual<br>(mV)'),
    (757, 727, 'SSR'),
]
for k in range(5):
    (x0, x1), (y0, y1) = PANELS[9 + k]
    Y_TITLES.append((766, (y0 + y1) / 2, '<i>Z<sub>AC</sub></i> (mΩ)'))
for xp, yp, t in Y_TITLES:
    paper_text(xp, yp, t, 16, angle=-90)

for xp, yp in [(318, 227), (318, 806), (318, 967), (1051, 535), (1055, 802), (1056, 967)]:
    paper_text(xp, yp, 'Time (s)', 16)
for xp, yp, t in [(318, 246, '(a)'), (318, 827, '(b)'), (1051, 557, '(c)'),
                  (312, 988, '(d)'), (1043, 823, '(e)'), (1040, 988, '(f)')]:
    paper_text(xp, yp, t, 20)

fig.update_layout(
    width=W, height=H, margin=dict(l=0, r=0, t=0, b=0),
    paper_bgcolor='white', plot_bgcolor='white', showlegend=False,
    font=dict(family=FONT, size=15, color='black'),
)

fig.write_html("out.html")
